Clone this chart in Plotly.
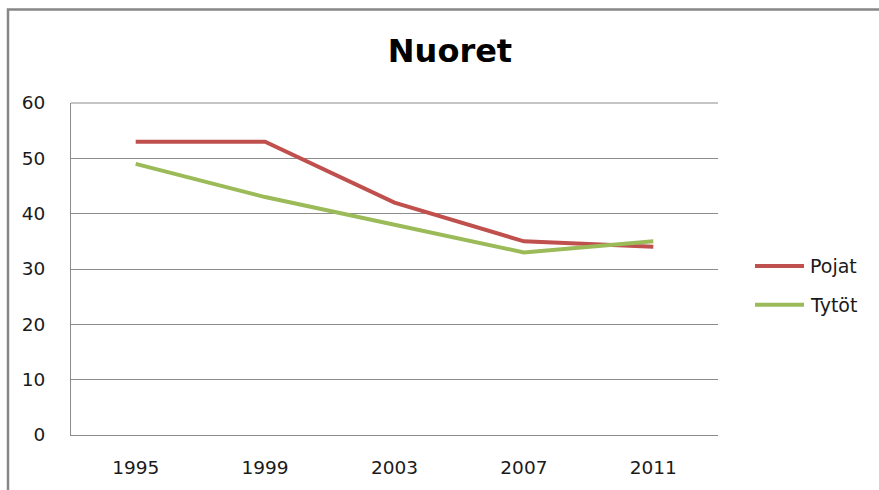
import plotly.graph_objects as go

years = ["1995", "1999", "2003", "2007", "2011"]
pojat = [53, 53, 42, 35, 34]
tytot = [49, 43, 38, 33, 35]
series_names = ["Pojat", "Tytöt"]
series_colors = ["#C0504D", "#9BBB59"]

W, H = 879, 490
L, R, T, B = 71, 718, 103, 437
pw, ph = R - L, B - T

def px(x):
    return (x - L) / pw

def py(y):
    return (B - y) / ph

fig = go.Figure()
for name, vals, col in zip(series_names, [pojat, tytot], series_colors):
    fig.add_trace(go.Scatter(x=years, y=vals, mode="lines", name=name,
                             line=dict(color=col, width=4), showlegend=False))

font_fam = "DejaVu Sans"
shapes = [
    dict(type="rect", xref="paper", yref="paper", x0=px(8), x1=px(900), y0=py(520), y1=py(9),
         line=dict(color="#878787", width=2.5), fillcolor="rgba(0,0,0,0)", layer="below"),
    dict(type="line", xref="paper", yref="paper", x0=0, x1=1, y0=1, y1=1,
         line=dict(color="#8c8c8c", width=1), layer="below"),
]
annotations = []
leg_y = [267, 306]
for name, col, yy in zip(series_names, series_colors, leg_y):
    shapes.append(dict(type="line", xref="paper", yref="paper", x0=px(755), x1=px(804),
                       y0=py(yy), y1=py(yy), line=dict(color=col, width=4)))
    annotations.append(dict(text=name, xref="paper", yref="paper", x=px(808), y=py(yy),
                            xanchor="left", yanchor="middle", showarrow=False,
                            font=dict(family=font_fam, size=19, color="#1a1a1a")))

fig.update_layout(
    width=W, height=H,
    margin=dict(l=L, r=W - R, t=T, b=H - B),
    paper_bgcolor="white", plot_bgcolor="white",
    title=dict(text="<b>Nuoret</b>", x=450 / W, xanchor="center", y=1 - 51 / H, yanchor="middle",
               font=dict(family=font_fam, size=32, color="#000000")),
    xaxis=dict(type="category", range=[-0.5, 4.5], showgrid=False, showline=True,
               linecolor="#8c8c8c", linewidth=1, ticks="", ticklabelstandoff=16,
               tickfont=dict(family=font_fam, size=18.5, color="#1a1a1a")),
    yaxis=dict(range=[0, 60], dtick=10, showgrid=True, gridcolor="#8c8c8c", gridwidth=1,
               showline=True, linecolor="#8c8c8c", linewidth=1, zeroline=False, ticks="",
               ticklabelstandoff=21,
               tickfont=dict(family=font_fam, size=18.5, color="#1a1a1a")),
    shapes=shapes, annotations=annotations,
    showlegend=False,
)
fig.write_html("out.html", config={"displayModeBar": False},
               post_script="document.body.style.margin='0px';")
